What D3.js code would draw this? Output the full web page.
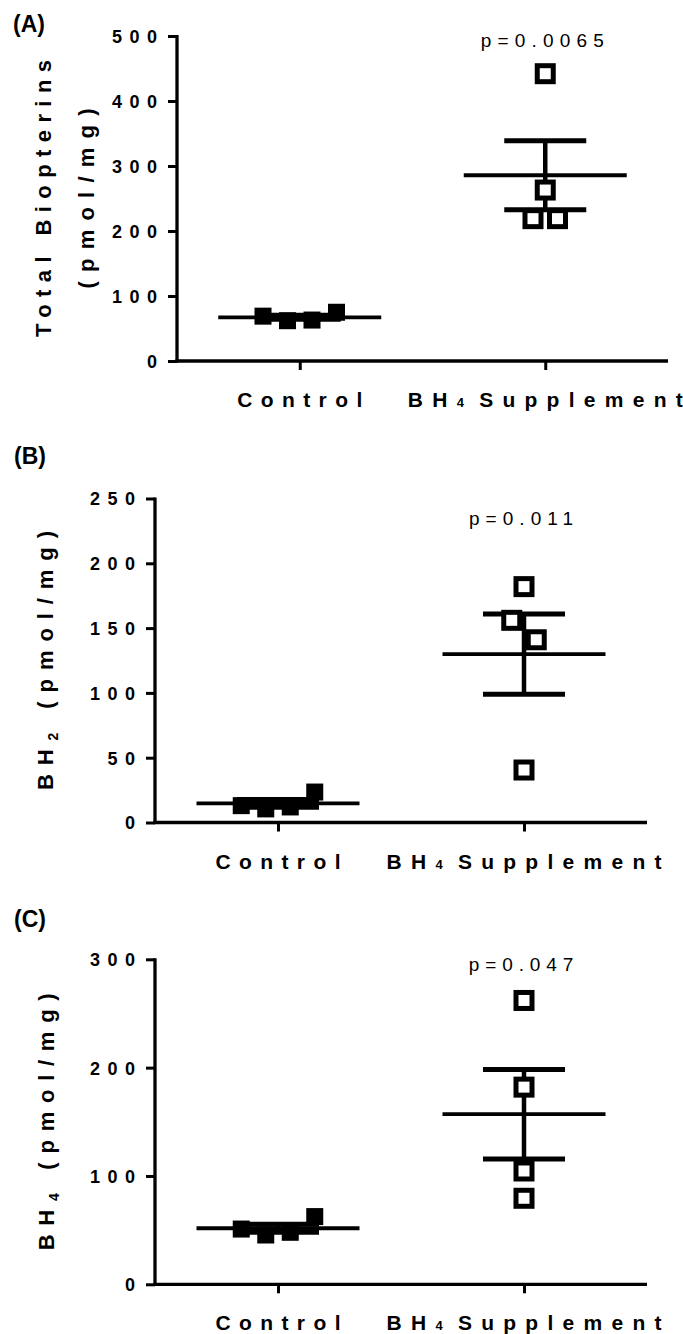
<!DOCTYPE html>
<html><head><meta charset="utf-8">
<script src="https://cdn.jsdelivr.net/npm/d3@7"></script>
<style>body{margin:0;background:#fff;} svg{display:block;font-family:"Liberation Sans",Arial,sans-serif;}</style>
</head><body>
<svg id="chart" width="683" height="1334"></svg>
<script>
// ---------- data ----------
const categories = ["Control", "BH4 Supplement"];
const panelLabels = ["(A)", "(B)", "(C)"];
const pValues = ["p=0.0065", "p=0.011", "p=0.047"];
const yMax = [500, 250, 300];
const yTicksA = [0, 100, 200, 300, 400, 500];
const yTicksB = [0, 50, 100, 150, 200, 250];
const yTicksC = [0, 100, 200, 300];
const controlA = [69, 62, 63, 75];
const bh4A = [442, 263, 219, 219];
const controlB = [13, 10.5, 12, 23.5];
const bh4B = [182, 156, 141, 40.5];
const controlC = [51, 45.5, 48, 62.5];
const bh4C = [262, 182, 104.6, 79.4];

// ---------- layout ----------
const svg = d3.select("#chart");
const FONT = '"Liberation Sans", Arial, sans-serif';
const panels = [
  { left: 177, top: 36, width: 491, height: 325, ticks: yTicksA, groups: [controlA, bh4A],
    label: { x: 13, y: 32 }, pY: 47, titleLines: [
      { parts: [["Total Biopterins", 0]], x: 51, len: 277 },
      { parts: [["(pmol/mg)", 0]], x: 94, len: 180 } ] },
  { left: 155, top: 498.5, width: 492, height: 324, ticks: yTicksB, groups: [controlB, bh4B],
    label: { x: 14, y: 464 }, pY: 525, titleLines: [
      { parts: [["BH", 0], ["2", 1], [" (pmol/mg)", 0]], x: 53, len: 259 } ] },
  { left: 155, top: 959.3, width: 492, height: 325, ticks: yTicksC, groups: [controlC, bh4C],
    label: { x: 14, y: 927 }, pY: 970.5, titleLines: [
      { parts: [["BH", 0], ["4", 1], [" (pmol/mg)", 0]], x: 54, len: 257 } ] }
];

panels.forEach((p, pi) => {
  const g = svg.append("g").attr("transform", `translate(${p.left},${p.top})`);
  const x = d3.scalePoint().domain(categories).range([0, p.width]).padding(0.5);
  const y = d3.scaleLinear().domain([0, yMax[pi]]).range([p.height, 0]);

  // y axis
  const ya = g.append("g").call(d3.axisLeft(y).tickValues(p.ticks).tickSize(9).tickSizeOuter(0).tickPadding(0));
  ya.select(".domain").attr("stroke", "#000").attr("stroke-width", 3.3).attr("d", `M0,${p.height + 1.6}V${-1}`);
  ya.selectAll(".tick line").attr("stroke", "#000").attr("stroke-width", 3);
  ya.selectAll(".tick text").attr("x", -12.5).attr("dy", "0.36em")
    .attr("font-family", FONT).attr("font-weight", "bold").attr("font-size", 18)
    .attr("letter-spacing", 7.5).attr("fill", "#000");

  // x axis
  const xa = g.append("g").attr("transform", `translate(0,${p.height})`)
    .call(d3.axisBottom(x).tickSize(9).tickSizeOuter(0).tickFormat(""));
  xa.select(".domain").attr("stroke", "#000").attr("stroke-width", 3.3).attr("d", `M-1.6,0H${p.width}`);
  xa.selectAll(".tick line").attr("stroke", "#000").attr("stroke-width", 3);

  // category labels
  const catLen = [125, 275];
  categories.forEach((c, ci) => {
    const t = g.append("text").attr("x", x(c)).attr("y", p.height + 46)
      .attr("text-anchor", "middle").attr("font-family", FONT).attr("font-weight", "bold")
      .attr("font-size", 21).attr("fill", "#000")
      .attr("textLength", catLen[ci]).attr("lengthAdjust", "spacing");
    if (c.startsWith("BH4")) {
      t.append("tspan").text("BH");
      t.append("tspan").attr("font-size", 13).text("4");
      t.append("tspan").attr("dx", 6).text("Supplement");
    } else t.text(c);
  });

  // points, mean and SEM
  const MEAN_HW = 81.5, CAP_HW = 41, SPREAD = 24.5, THRESH = 22;
  p.groups.forEach((vals, gi) => {
    const cx = x(categories[gi]);
    // simple column-scatter layout: chain points within THRESH px into rows
    const order = vals.map((v, i) => i).sort((a, b) => vals[b] - vals[a]);
    const clusters = [];
    order.forEach(i => {
      const last = clusters[clusters.length - 1];
      if (last && Math.abs(y(vals[last[last.length - 1]]) - y(vals[i])) < THRESH) last.push(i);
      else clusters.push([i]);
    });
    const xs = new Array(vals.length);
    clusters.forEach(cl => {
      cl.sort((a, b) => a - b);
      cl.forEach((i, k) => { xs[i] = cx + (k - (cl.length - 1) / 2) * SPREAD; });
    });

    const m = d3.mean(vals), sem = d3.deviation(vals) / Math.sqrt(vals.length);
    if (gi === 0) {
      vals.forEach((v, i) => g.append("rect").attr("x", xs[i] - 8.5).attr("y", y(v) - 8.5)
        .attr("width", 17).attr("height", 17).attr("fill", "#000"));
    }
    // error bar
    g.append("line").attr("x1", cx).attr("x2", cx).attr("y1", y(m - sem)).attr("y2", y(m + sem))
      .attr("stroke", "#000").attr("stroke-width", 4.5);
    [m - sem, m + sem].forEach(v => g.append("line").attr("x1", cx - CAP_HW).attr("x2", cx + CAP_HW)
      .attr("y1", y(v)).attr("y2", y(v)).attr("stroke", "#000").attr("stroke-width", 5));
    g.append("line").attr("x1", cx - MEAN_HW).attr("x2", cx + MEAN_HW).attr("y1", y(m)).attr("y2", y(m))
      .attr("stroke", "#000").attr("stroke-width", 3.8);
    if (gi === 1) {
      vals.forEach((v, i) => g.append("rect").attr("x", xs[i] - 8).attr("y", y(v) - 8)
        .attr("width", 16).attr("height", 16).attr("fill", "#fff").attr("stroke", "#000").attr("stroke-width", 5));
    }
  });

  // p value
  svg.append("text").attr("x", p.left + x(categories[1]) - 3).attr("y", p.pY)
    .attr("text-anchor", "middle").attr("font-family", FONT).attr("font-size", 19).attr("fill", "#000")
    .attr("textLength", [123, 104, 104.5][pi]).attr("lengthAdjust", "spacing").text(pValues[pi]);

  // panel label
  svg.append("text").attr("x", p.label.x).attr("y", p.label.y).attr("font-family", FONT)
    .attr("font-weight", "bold").attr("font-size", 23).attr("fill", "#000").text(panelLabels[pi]);

  // y title (rotated)
  const cy = p.top + p.height / 2;
  p.titleLines.forEach(tl => {
    const t = svg.append("text").attr("transform", `translate(${tl.x},${cy}) rotate(-90)`)
      .attr("text-anchor", "middle").attr("font-family", FONT).attr("font-weight", "bold")
      .attr("font-size", 22).attr("fill", "#000")
      .attr("textLength", tl.len).attr("lengthAdjust", "spacing");
    let sub = false;
    tl.parts.forEach(([s, isSub]) => {
      const ts = t.append("tspan").text(s);
      if (isSub) { ts.attr("font-size", 14).attr("dy", 5); sub = true; }
      else if (sub) { ts.attr("dy", -5); sub = false; }
    });
  });
});
</script>
</body></html>
